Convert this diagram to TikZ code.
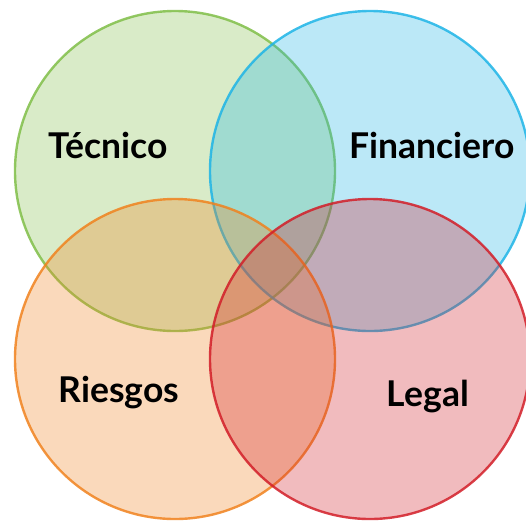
\documentclass[tikz,border=0pt]{standalone}
\usepackage{fontspec}
\setmainfont{Lato}
\definecolor{tecgreen}{RGB}{128,190,72}
\definecolor{finblue}{RGB}{30,180,230}
\definecolor{riesorange}{RGB}{240,130,30}
\definecolor{legred}{RGB}{210,30,40}

\begin{document}
\begin{tikzpicture}[x=1pt, y=-1pt,
    set/.style={
        circle,
        minimum size=320pt,
        inner sep=0pt,
        line width=2.4pt,
        draw=#1,
        draw opacity=0.85,
        fill=#1,
        fill opacity=0.3
        },
    setname/.style={
        font=\bfseries\fontsize{35.5}{40}\selectfont,
        text=black,
        inner sep=0pt
        }]

    \useasboundingbox (0,0) rectangle (526,520);

    \node (tec_set) [set=tecgreen] at (175,171) {};
    \node (fin_set) [set=finblue] at (370,171) {};
    \node (ries_set) [set=riesorange] at (175,359) {};
    \node (leg_set) [set=legred] at (370,359) {};

    \node (tec) [setname] at (108,145) {Técnico};
    \node (fin) [setname] at (432,145) {Financiero};
    \node (ries) [setname] at (119,393) {Riesgos};
    \node (leg) [setname] at (428,397) {Legal};
\end{tikzpicture}
\end{document}
